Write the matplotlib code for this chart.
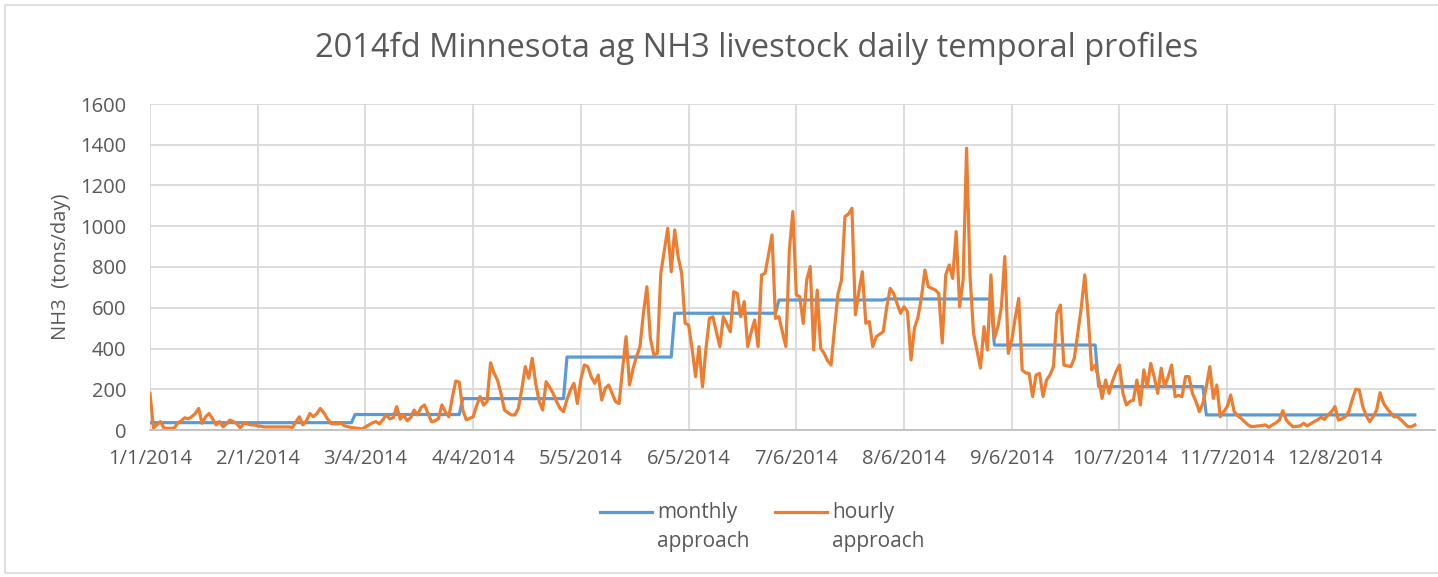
import matplotlib.pyplot as plt
import numpy as np
import pandas as pd
from matplotlib.patches import Rectangle
from matplotlib.lines import Line2D

# monthly approach (tons/day), one level per month
monthly_levels = [36, 36, 76, 154, 358, 573, 638, 643, 417, 213, 74, 74]

# hourly approach, daily values, month by month
jan = [180, 10, 25, 41, 10, 8, 8, 10, 35, 45, 60, 55, 65, 80, 106, 33, 65, 81, 55, 25,
       41, 16, 30, 49, 41, 30, 10, 33, 30, 25, 25]
feb = [20, 18, 15, 15, 15, 15, 15, 15, 15, 15, 12, 40, 65, 25, 45, 81, 65, 80, 106, 85,
       57, 33, 30, 30, 33, 20, 16, 12]
mar = [10, 8, 5, 15, 25, 35, 41, 30, 50, 74, 55, 60, 115, 53, 74, 45, 60, 98, 74, 110,
       123, 82, 41, 45, 55, 123, 90, 65, 160, 240, 235]
apr = [100, 50, 57, 65, 120, 164, 122, 139, 330, 280, 245, 180, 98, 85, 74, 74, 106, 200,
       311, 254, 352, 229, 140, 98, 237, 210, 180, 140, 106, 90]
may = [150, 196, 229, 130, 250, 319, 311, 260, 229, 270, 147, 204, 221, 180, 139, 130,
       300, 458, 221, 300, 360, 409, 573, 703, 450, 368, 376, 769, 880, 990, 777]
jun = [982, 850, 769, 524, 515, 400, 262, 409, 212, 400, 548, 556, 480, 409, 556, 520,
       482, 679, 670, 556, 630, 409, 480, 540, 409, 761, 769, 860, 957, 548]
jul = [556, 480, 409, 884, 1072, 663, 654, 523, 736, 802, 393, 687, 401, 376, 340, 319,
       500, 670, 736, 1047, 1060, 1088, 565, 680, 777, 524, 532, 409, 458, 470, 482]
aug = [600, 695, 670, 620, 573, 605, 581, 344, 500, 553, 650, 785, 703, 695, 687, 670,
       427, 761, 810, 744, 974, 605, 736, 1383, 752, 475, 390, 304, 507, 393, 761]
sep = [450, 507, 600, 851, 376, 442, 550, 646, 295, 280, 278, 164, 270, 278, 164, 245,
       270, 311, 573, 613, 319, 315, 311, 352, 475, 600, 761, 556, 295, 319]
oct_ = [250, 155, 245, 180, 240, 286, 319, 180, 123, 140, 147, 245, 123, 295, 213, 327,
        260, 180, 303, 213, 260, 319, 164, 170, 164, 262, 262, 180, 140, 90, 131]
nov = [213, 311, 155, 221, 65, 90, 115, 172, 90, 70, 57, 41, 25, 16, 18, 20, 22, 25, 13,
       25, 35, 49, 95, 49, 30, 16, 18, 20, 33, 20]
dec = [30, 41, 50, 62, 52, 74, 90, 115, 49, 55, 65, 90, 150, 200, 196, 115, 70, 41, 65,
       98, 183, 131, 106, 85, 65, 65, 50, 33, 16, 16, 25]

hourly = jan + feb + mar + apr + may + jun + jul + aug + sep + oct_ + nov + dec
dates = pd.date_range("2014-01-01", "2014-12-31", freq="D")
monthly = [monthly_levels[d.month - 1] for d in dates]
days = np.arange(len(dates))

tick_days = np.arange(0, 365, 31)
tick_labels = [f"{d.month}/{d.day}/{d.year}" for d in dates[tick_days]]

plt.rcParams['font.family'] = ['Open Sans', 'DejaVu Sans']
grey = '#595959'
blue = '#5B9BD5'
orange = '#ED7D31'
W, H = 1438, 577

fig = plt.figure(figsize=(14.38, 5.77), dpi=100)
fig.patches.append(Rectangle((5 / W, 4 / H), 1.2, 568 / H, transform=fig.transFigure,
                             fill=False, edgecolor='#d9d9d9', linewidth=1.2))
ax = fig.add_axes([150 / W, 1 - 430 / H, 1285 / W, 326 / H])

ax.plot(days, monthly, color=blue, linewidth=2.3)
ax.plot(days, hourly, color=orange, linewidth=2.3)

ax.set_xlim(0, 369.8)
ax.set_ylim(0, 1600)
ax.set_yticks(range(0, 1601, 200))
ax.set_xticks(tick_days)
ax.set_xticklabels(tick_labels)
ax.grid(True, color='#d9d9d9', linewidth=1.3)
ax.set_axisbelow(True)
for s in ['top', 'right', 'left']:
    ax.spines[s].set_visible(False)
ax.spines['bottom'].set_color('#bfbfbf')
ax.spines['bottom'].set_linewidth(1.3)
ax.tick_params(length=0, colors=grey, labelsize=14.5)
ax.tick_params(axis='y', pad=17)
ax.tick_params(axis='x', pad=14)

ax.set_ylabel('NH3  (tons/day)', color=grey, fontsize=14.5, labelpad=7)
fig.text(757 / W, 1 - 48 / H, '2014fd Minnesota ag NH3 livestock daily temporal profiles',
         color=grey, fontsize=23.5, ha='center', va='center')

# legend: handle level with the first line of each two-line label
legend_items = [(blue, 'monthly\napproach', 600), (orange, 'hourly\napproach', 775)]
for color, label, x0 in legend_items:
    fig.add_artist(Line2D([x0 / W, (x0 + 52) / W], [1 - 512 / H, 1 - 512 / H],
                          color=color, linewidth=2.3, transform=fig.transFigure))
    fig.text((x0 + 57) / W, 1 - 502 / H, label, color=grey, fontsize=15,
             ha='left', va='top', linespacing=1.5)

plt.savefig('out.png', dpi=100)
